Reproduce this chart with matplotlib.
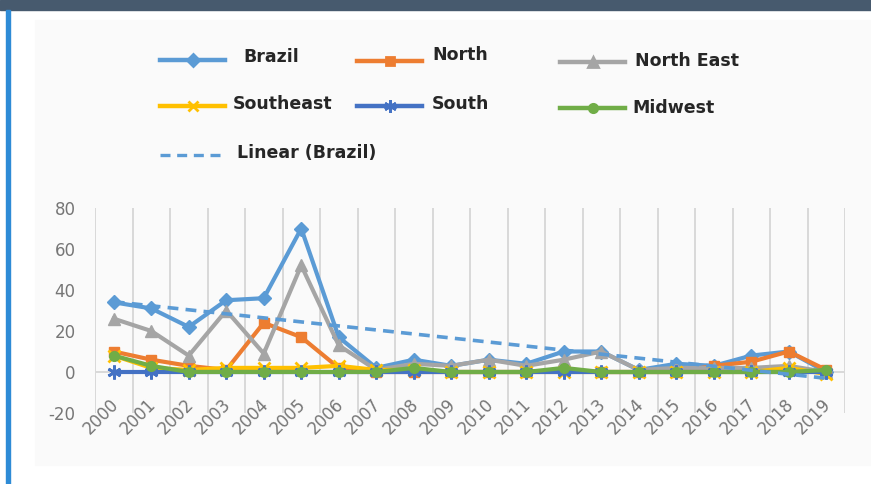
import matplotlib
matplotlib.use("Agg")
import matplotlib.pyplot as plt
import matplotlib.transforms as mtransforms
from matplotlib.patches import Rectangle
from matplotlib.lines import Line2D
import numpy as np

years = [str(y) for y in range(2000, 2020)]
brazil =     [34, 31, 22, 35, 36, 70, 17, 2, 6, 3, 6, 4, 10, 10, 1, 4, 3, 8, 10, 0]
north =      [10, 6, 3, 1, 24, 17, 2, 0, 0, 0, 0, 0, 1, 0, 0, 0, 3, 5, 10, 1]
north_east = [26, 20, 8, 30, 9, 52, 13, 1, 4, 3, 6, 3, 6, 10, 1, 2, 2, 2, 3, 0]
southeast =  [8, 2, 1, 2, 2, 2, 3, 1, 1, 0, 0, 0, 0, 0, 0, 0, 0, 0, 2, -1]
south =      [0, 0, 0, 0, 0, 0, 0, 0, 0, 0, 0, 0, 0, 0, 0, 0, 0, 0, 0, 0]
midwest =    [8, 3, 0, 0, 0, 0, 0, 0, 2, 0, 0, 0, 2, 0, 0, 0, 0, 0, 0, 1]
yticks = [-20, 0, 20, 40, 60, 80]

series = [
    ("Brazil", brazil, "#5B9BD5", "D", 7),
    ("North", north, "#ED7D31", "s", 7),
    ("North East", north_east, "#A5A5A5", "^", 8),
    ("Southeast", southeast, "#FFC000", "x", 8),
    ("South", south, "#4472C4", (6, 2, 0), 10),
    ("Midwest", midwest, "#70AD47", "o", 7),
]

W, H = 871, 484
fig = plt.figure(figsize=(W / 100, H / 100), dpi=100)
fig.patch.set_facecolor("white")

# faint panel, header strip, left blue bar
fig.patches.append(Rectangle((35 / W, 1 - 465 / H), 835 / W, 445 / H,
                             transform=fig.transFigure, color="#fafafa", zorder=-5))
fig.patches.append(Rectangle((0, 1 - 10 / H), 1, 10 / H,
                             transform=fig.transFigure, color="#475a6e", zorder=1))
fig.patches.append(Rectangle((6 / W, 0), 4 / W, 1 - 10 / H,
                             transform=fig.transFigure, color="#2e8bd6", zorder=1))

ax = fig.add_axes([95 / W, 1 - 413 / H, 750 / W, 205 / H])
ax.set_zorder(2)
ax.set_facecolor("none")
x = np.arange(len(years))

ax.set_xlim(-0.5, len(years) - 0.5)
ax.set_ylim(-20, 80)
for s in ax.spines.values():
    s.set_visible(False)

# vertical gridlines at category boundaries
ax.set_xticks(np.arange(-0.5, len(years), 1), minor=True)
ax.grid(True, which="minor", axis="x", color="#d9d9d9", lw=1.4, zorder=0)
ax.tick_params(which="minor", length=0)
ax.axhline(0, color="#d9d9d9", lw=1.4, zorder=1)

for name, vals, col, mk, ms in series:
    ax.plot(x, vals, color=col, lw=3, marker=mk, ms=ms,
            mew=2 if (mk == "x" or isinstance(mk, tuple)) else 1,
            mec=col, mfc=col, zorder=3, solid_joinstyle="round")

coef = np.polyfit(x, brazil, 1)
trend = np.polyval(coef, x)
ax.plot(x, trend, color="#5B9BD5", lw=2.6, ls=(0, (3, 2)), zorder=4)

ax.set_yticks(yticks)
ax.set_yticklabels([str(v) for v in yticks], fontsize=12, color="#767676")
ax.tick_params(axis="y", length=0, pad=14)

ax.set_xticks(x)
ax.set_xticklabels(years, fontsize=12, color="#767676", rotation=45,
                   ha="right", va="top", rotation_mode="anchor")
ax.tick_params(axis="x", which="major", length=0, pad=-13)
offset = mtransforms.ScaledTranslation(-3 / 72, 0, fig.dpi_scale_trans)
for lab in ax.get_xticklabels():
    lab.set_transform(lab.get_transform() + offset)

# legend drawn manually in figure pixel positions
legend_items = [
    ("Brazil", "#5B9BD5", "D", 6, 160, 225, 60, 243, 57, "-"),
    ("North", "#ED7D31", "s", 6, 357, 422, 61, 432, 55, "-"),
    ("North East", "#A5A5A5", "^", 7, 560, 625, 62, 635, 61, "-"),
    ("Southeast", "#FFC000", "x", 7, 160, 225, 106, 233, 104, "-"),
    ("South", "#4472C4", (6, 2, 0), 9, 357, 422, 106, 432, 104, "-"),
    ("Midwest", "#70AD47", "o", 6, 560, 625, 108, 632, 108, "-"),
    ("Linear (Brazil)", "#5B9BD5", None, 0, 160, 225, 155, 237, 153, "--"),
]
for name, col, mk, ms, x0, x1, yl, xt, yt, ls in legend_items:
    if ls == "--":
        fig.lines.append(Line2D([x0 / W, x1 / W], [1 - yl / H, 1 - yl / H],
                                transform=fig.transFigure, color=col, lw=2.4,
                                ls=(0, (3, 2))))
    else:
        fig.lines.append(Line2D([x0 / W, x1 / W], [1 - yl / H, 1 - yl / H],
                                transform=fig.transFigure, color=col, lw=3.2))
        fig.lines.append(Line2D([(x0 + x1) / 2 / W], [1 - yl / H],
                                transform=fig.transFigure, color=col, marker=mk,
                                ms=ms, mec=col, mfc=col, mew=2, ls="none"))
    fig.text(xt / W, 1 - yt / H, name, fontsize=12.5, fontweight="bold",
             color="#262626", ha="left", va="center")

fig.savefig("out.png", dpi=100)
